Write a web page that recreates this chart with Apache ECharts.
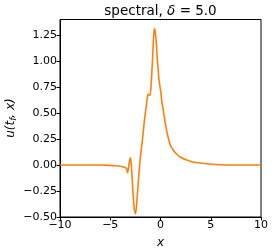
<!DOCTYPE html>
<html>
<head>
<meta charset="utf-8">
<script src="https://cdn.jsdelivr.net/npm/echarts@6/dist/echarts.min.js"></script>
<style>html,body{margin:0;padding:0;background:#fff}#c{width:274px;height:252px}</style>
</head>
<body>
<div id="c"></div>
<script>
var xValues = [-10, -8, -6, -5, -4.5, -4, -3.6, -3.4, -3.27, -3.15, -3.02, -2.9, -2.75, -2.6, -2.48, -2.35, -2.2, -2.04, -1.8, -1.6, -1.4, -1.27, -1.2, -1.05, -0.95, -0.8, -0.68, -0.58, -0.45, -0.3, -0.15, 0.05, 0.12, 0.28, 0.45, 0.61, 0.95, 1.25, 1.61, 2.0, 2.6, 3.2, 3.93, 4.93, 6, 7, 10];
var uValues = [0, 0, 0, -0.003, -0.007, -0.012, -0.022, -0.032, -0.075, 0.0, 0.07, 0.0, -0.25, -0.43, -0.47, -0.35, -0.15, 0.04, 0.24, 0.43, 0.58, 0.67, 0.68, 0.67, 0.75, 1.0, 1.25, 1.314, 1.22, 1.0, 0.82, 0.69, 0.62, 0.525, 0.42, 0.33, 0.20, 0.145, 0.106, 0.075, 0.048, 0.03, 0.019, 0.01, 0.003, 0, 0];
var xTicks = [-10, -5, 0, 5, 10];
var yTicks = [-0.5, -0.25, 0, 0.25, 0.5, 0.75, 1.0, 1.25];

var font = 'DejaVu Sans';
function fmt(v, d) { return v.toFixed(d).replace('-', '\u2212'); }
var chart = echarts.init(document.getElementById('c'), null, {renderer: 'canvas'});
chart.setOption({
  animation: false,
  graphic: [{
    type: 'text', x: 160.5, y: 4,
    style: {
      text: '{a|spectral, }{b|\u03b4}{a| = 5.0}',
      align: 'center', verticalAlign: 'top',
      rich: {
        a: {fontFamily: font, fontSize: 13.5, fontWeight: 'normal', fill: '#000'},
        b: {fontFamily: font, fontSize: 13.5, fontStyle: 'italic', fontWeight: 'normal', fill: '#000'}
      }
    }
  }, {
    type: 'text', x: 11, y: 118, rotation: Math.PI / 2,
    style: {
      text: '{a|u(t}{s|f}{a|, x)}',
      align: 'center', verticalAlign: 'middle',
      rich: {
        a: {fontFamily: font, fontSize: 12, fontStyle: 'italic', fill: '#000'},
        s: {fontFamily: font, fontSize: 9, fontStyle: 'italic', fill: '#000', padding: [5, 0, 0, 0]}
      }
    }
  }],
  grid: {left: 60, right: 13, top: 19.5, bottom: 35, show: true, borderColor: '#000', borderWidth: 1,
    containLabel: false, outerBoundsMode: 'none'},
  xAxis: {
    type: 'value', min: -10, max: 10, interval: 5,
    name: 'x', nameLocation: 'middle', nameGap: 20,
    nameTextStyle: {fontFamily: font, fontSize: 12, fontStyle: 'italic', color: '#000'},
    axisLine: {show: true, onZero: false, lineStyle: {color: '#000', width: 1}},
    axisTick: {show: true, length: 3.5, lineStyle: {color: '#000'}},
    axisLabel: {fontFamily: font, fontSize: 11, color: '#000', margin: 3,
      formatter: function (v) { return xTicks.indexOf(v) >= 0 ? fmt(v, 0) : ''; }},
    splitLine: {show: false}
  },
  yAxis: {
    type: 'value', min: -0.5, max: 1.4, interval: 0.25,
    axisLine: {show: true, onZero: false, lineStyle: {color: '#000', width: 1}},
    axisTick: {show: true, length: 3.5, lineStyle: {color: '#000'}},
    axisLabel: {fontFamily: font, fontSize: 11, color: '#000', margin: 3, showMaxLabel: false,
      formatter: function (v) {
        for (var i = 0; i < yTicks.length; i++) if (Math.abs(yTicks[i] - v) < 1e-6) return fmt(v, 2);
        return '';
      }},
    splitLine: {show: false}
  },
  series: [{
    type: 'line',
    data: xValues.map(function (x, i) { return [x, uValues[i]]; }),
    showSymbol: false, smooth: 0.2,
    lineStyle: {color: '#ff7f0e', width: 1.6},
    clip: true
  }]
});
</script>
</body>
</html>
